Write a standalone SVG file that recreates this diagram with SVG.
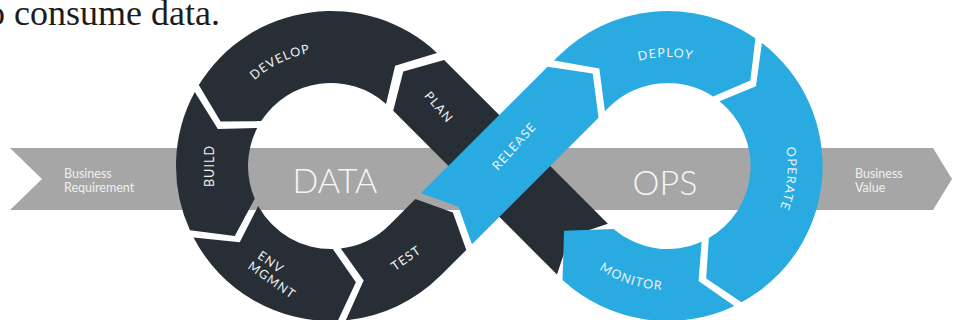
<svg xmlns="http://www.w3.org/2000/svg" width="955" height="320" viewBox="0 0 955 320">
<style>
.dk{fill:#282e36}
.bl{fill:#29abe2}
.band{fill:#a6a6a6}
.lbl{font-family:Lato,"Open Sans","Liberation Sans",sans-serif;font-size:12.5px;letter-spacing:1.1px;fill:#eef1f3;text-anchor:middle}
.big{font-family:Lato,"Open Sans","Liberation Sans",sans-serif;font-weight:300;font-size:34px;fill:#f6f6f6;text-anchor:middle}
.biz{font-family:Lato,"Open Sans","Liberation Sans",sans-serif;font-size:12.5px;fill:#f0f0f0}
.head{font-family:"Liberation Serif","Times New Roman",serif;font-size:36px;fill:#1c1c1c}
</style>
<defs>
<path id="p-develop" d="M235.66,101.69 A115,115 0 0 1 339.02,51.28"/>
<path id="p-deploy" d="M611.46,72.57 A109,109 0 0 1 720.44,70.67"/>
<path id="p-operate" d="M777.23,117.19 A120,120 0 0 1 764.68,236.53"/>
<path id="p-monitor" d="M575.45,248.97 A124,124 0 0 0 693.38,287.29"/>
</defs>
<rect width="955" height="320" fill="#ffffff"/>
<text class="head" x="-13" y="25">o consume data.</text>
<g id="connectors">
<path class="band" d="M10,148 L933,148 L952,179 L933,210 L10,210 L42,179 Z"/>
<text class="biz" x="64" y="178">Business</text>
<text class="biz" x="64" y="192">Requirement</text>
<text class="biz" x="855" y="178">Business</text>
<text class="biz" x="855" y="192">Value</text>
</g>
<g id="data">
<text class="big" x="335" y="193">DATA</text>
</g>
<g id="ops">
<text class="big" x="665" y="195">OPS</text>
</g>
<g id="seg-plan">
<path class="dk" d="M607.88,223.68 L444.11,59.91 L403.28,71.47 L393.20,110.83 L556.97,274.59 L569.69,236.41 Z"/>
<text class="lbl" transform="translate(439,107) rotate(50)" y="4.5">PLAN</text>
</g>
<g id="seg-develop">
<path class="dk" d="M436.99,52.90 A155,155 0 0 0 198.81,85.06 L220.61,121.56 L261.19,121.10 A83,83 0 0 1 386.05,103.88 L395.11,65.75 Z"/>
<text class="lbl"><textPath href="#p-develop" startOffset="50%">DEVELOP</textPath></text>
</g>
<g id="seg-build">
<path class="dk" d="M194.79,92.04 A155,155 0 0 0 189.98,230.33 L234.80,236.04 L254.73,198.75 A83,83 0 0 1 257.21,128.01 L217.87,129.08 Z"/>
<text class="lbl" transform="translate(209,166) rotate(-90)" y="4.5">BUILD</text>
</g>
<g id="seg-env">
<path class="dk" d="M193.48,237.52 A155,155 0 0 0 337.82,320.85 L355.88,282.37 L332.80,248.98 A83,83 0 0 1 258.25,205.94 L239.74,242.37 Z"/>
<text class="lbl" transform="translate(271,262) rotate(35)" y="4.5">ENV</text>
<text class="lbl" transform="translate(272,280) rotate(35)" y="4.5">MGMNT</text>
</g>
<g id="seg-test">
<path class="dk" d="M345.80,320.29 A155,155 0 0 0 440.60,275.60 L466.29,249.91 L452.85,212.44 L415.37,199.00 L389.69,224.69 A83,83 0 0 1 340.77,248.42 L363.66,280.43 Z"/>
<text class="lbl" transform="translate(406,258) rotate(-35)" y="4.5">TEST</text>
</g>
<g id="seg-release">
<path class="bl" d="M421.03,193.34 L547.60,66.77 L592.71,73.52 L598.52,117.68 L471.94,244.26 L458.51,206.78 Z"/>
<text class="lbl" transform="translate(514,146) rotate(-48)" y="4.5">RELEASE</text>
</g>
<g id="seg-deploy">
<path class="bl" d="M553.97,60.41 L558.0,56.4 A155,155 0 0 1 755.42,38.28 L750.36,80.49 L713.11,96.59 A83,83 0 0 0 608.91,107.31 L604.88,111.32 L599.34,68.52 Z"/>
<text class="lbl"><textPath href="#p-deploy" startOffset="50%">DEPLOY</textPath></text>
</g>
<g id="seg-operate">
<path class="bl" d="M761.92,43.00 A155,155 0 0 1 741.52,302.24 L706.20,278.57 L708.80,238.05 A83,83 0 0 0 719.55,101.27 L755.92,86.25 Z"/>
<text class="lbl"><textPath href="#p-operate" startOffset="50%">OPERATE</textPath></text>
</g>
<g id="seg-monitor">
<path class="bl" d="M734.38,305.88 A155,155 0 0 1 562.55,279.97 L564.04,230.75 L613.51,228.96 A83,83 0 0 0 701.68,241.68 L698.54,280.91 Z"/>
<text class="lbl"><textPath href="#p-monitor" startOffset="50%">MONITOR</textPath></text>
</g>
</svg>
